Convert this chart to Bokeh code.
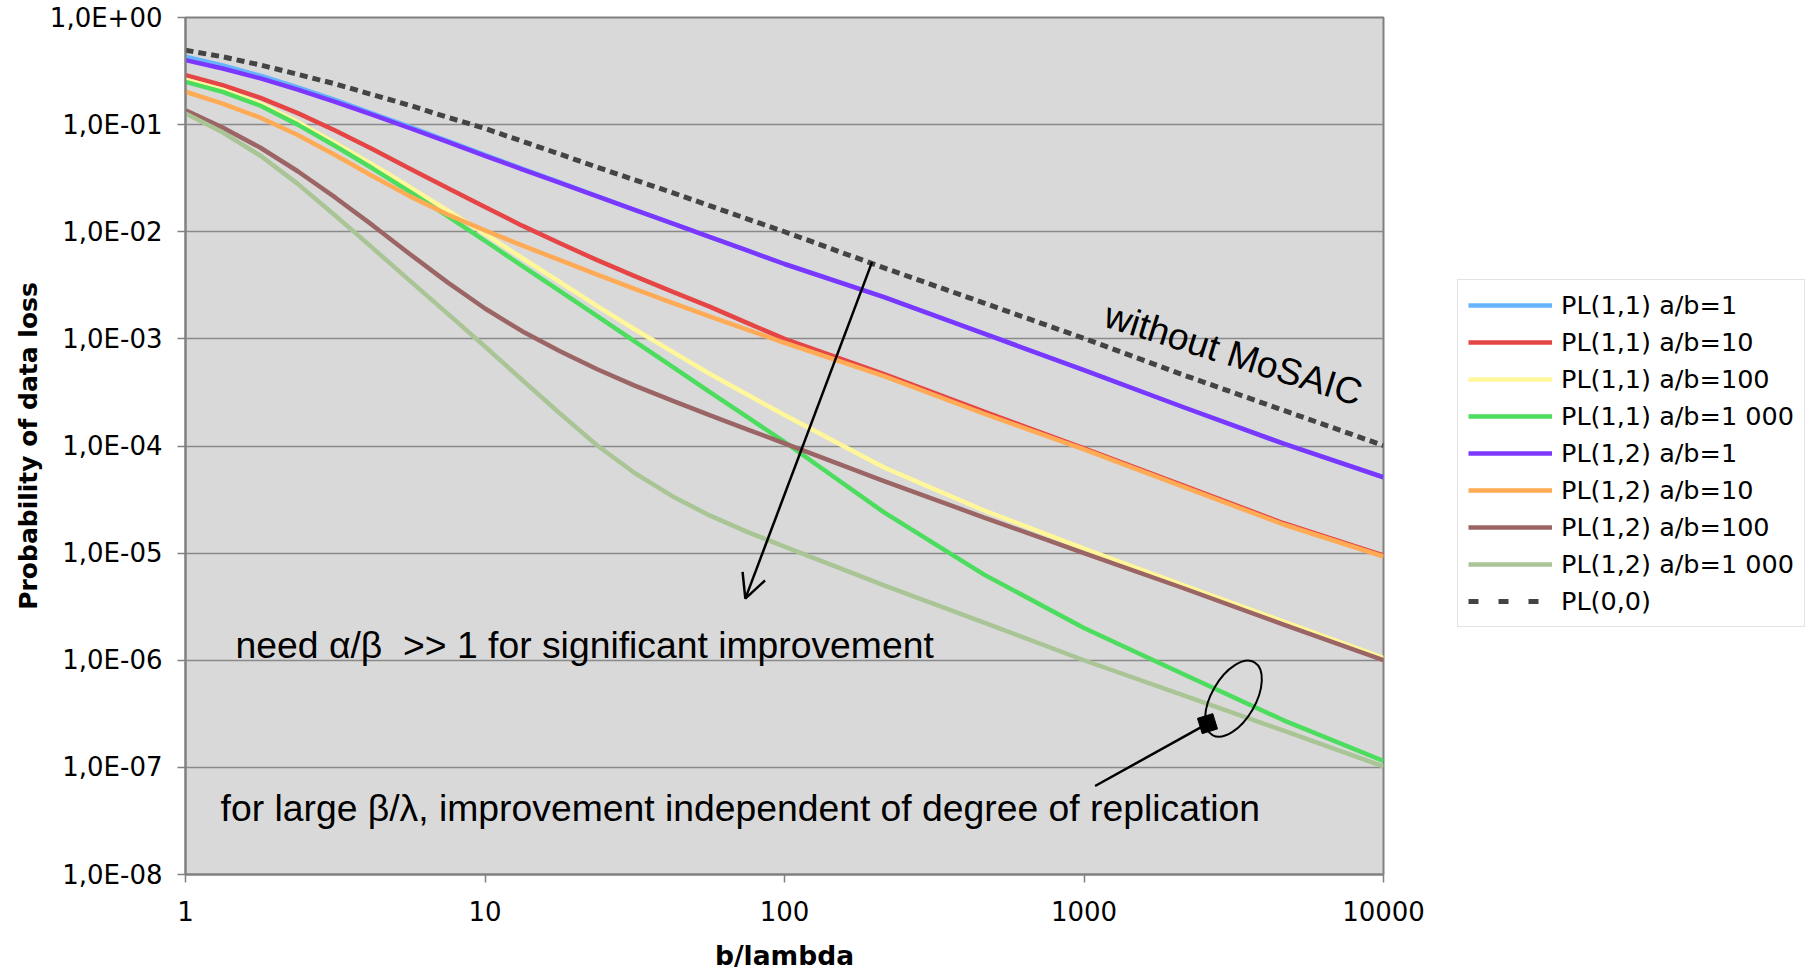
from bokeh.plotting import figure
from bokeh.models import (FixedTicker, Legend, LegendItem, Arrow, OpenHead, Label,
                          ColumnDataSource)
from bokeh.embed import file_html
from bokeh.resources import INLINE

# ---------------- data ----------------
x_vals = [1, 1.33, 1.78, 2.37, 3.16, 4.22, 5.62, 7.5, 10, 13.3, 17.8, 23.7, 31.6,
          42.2, 56.2, 75, 100, 215, 464, 1000, 2150, 4640, 10000]

pl11_1 = [0.43, 0.357, 0.286, 0.223, 0.170, 0.127, 0.0953, 0.0706, 0.0522, 0.0389,
          0.0289, 0.0215, 0.0160, 0.0120, 0.00897, 0.0067, 0.0050, 0.00245,
          0.00112, 5.1e-4, 2.3e-4, 1.05e-4, 5.1e-5]
pl11_10 = [0.290, 0.234, 0.178, 0.128, 0.0881, 0.0589, 0.0388, 0.0256, 0.0170,
           0.0114, 0.0078, 0.00543, 0.00385, 0.00276, 0.0020, 0.00141, 0.00100,
           4.7e-4, 2.09e-4, 9.5e-5, 4.27e-5, 1.9e-5, 9.5e-6]
pl11_100 = [0.263, 0.211, 0.157, 0.106, 0.0676, 0.0422, 0.026, 0.0158, 0.00955,
            0.00569, 0.00339, 0.00202, 0.00123, 7.6e-4, 4.73e-4, 3.02e-4, 1.95e-4,
            6.3e-5, 2.5e-5, 1.1e-5, 5.0e-6, 2.3e-6, 1.05e-6]
pl11_1000 = [0.251, 0.202, 0.150, 0.100, 0.0631, 0.0389, 0.0236, 0.0140, 0.00824,
             0.0048, 0.00279, 0.00163, 9.46e-4, 5.5e-4, 3.2e-4, 1.87e-4, 1.09e-4,
             2.4e-5, 6.3e-6, 2.0e-6, 7.4e-7, 2.75e-7, 1.15e-7]
pl12_1 = [0.40, 0.334, 0.270, 0.212, 0.163, 0.123, 0.0925, 0.0689, 0.0512, 0.0383,
          0.0286, 0.0214, 0.0160, 0.0120, 0.00897, 0.0067, 0.0050, 0.00245,
          0.00112, 5.1e-4, 2.3e-4, 1.05e-4, 5.1e-5]
pl12_10 = [0.203, 0.157, 0.116, 0.080, 0.052, 0.033, 0.0214, 0.0145, 0.0103,
           0.00745, 0.00543, 0.00398, 0.00293, 0.00217, 0.00162, 0.00122, 9.2e-4,
           4.5e-4, 2.0e-4, 9.3e-5, 4.15e-5, 1.85e-5, 9.3e-6]
pl12_100 = [0.136, 0.0938, 0.0608, 0.0367, 0.0209, 0.01146, 0.00617, 0.00337,
            0.00192, 0.00118, 7.67e-4, 5.2e-4, 3.66e-4, 2.65e-4, 1.94e-4, 1.43e-4,
            1.06e-4, 4.7e-5, 2.15e-5, 1.0e-5, 4.7e-6, 2.15e-6, 1.0e-6]
pl12_1000 = [0.127, 0.0847, 0.0512, 0.028, 0.0142, 0.00703, 0.00348, 0.00172,
             8.49e-4, 4.14e-4, 2.01e-4, 1.01e-4, 5.6e-5, 3.4e-5, 2.25e-5, 1.58e-5,
             1.15e-5, 5.0e-6, 2.24e-6, 1.0e-6, 4.7e-7, 2.2e-7, 1.02e-7]
pl00 = [0.495, 0.43, 0.36, 0.295, 0.24, 0.19, 0.151, 0.117, 0.092, 0.07, 0.053,
        0.040, 0.0305, 0.0232, 0.0175, 0.0132, 0.0100, 0.0046, 0.00216, 0.00101,
        4.6e-4, 2.15e-4, 1.01e-4]

series_names = ["PL(1,1) a/b=1", "PL(1,1) a/b=10", "PL(1,1) a/b=100", "PL(1,1) a/b=1 000",
                "PL(1,2) a/b=1", "PL(1,2) a/b=10", "PL(1,2) a/b=100", "PL(1,2) a/b=1 000",
                "PL(0,0)"]
series_values = [pl11_1, pl11_10, pl11_100, pl11_1000,
                 pl12_1, pl12_10, pl12_100, pl12_1000, pl00]
series_colors = ["#66b4ff", "#e54545", "#fff799", "#4cdd5e",
                 "#7c37ff", "#ffaa55", "#9c6565", "#a9c596", "#444444"]

x_ticks = [1, 10, 100, 1000, 10000]
x_tick_labels = ["1", "10", "100", "1000", "10000"]
y_ticks = [1e-8, 1e-7, 1e-6, 1e-5, 1e-4, 1e-3, 1e-2, 1e-1, 1.0]
y_tick_labels = ["1,0E-08", "1,0E-07", "1,0E-06", "1,0E-05", "1,0E-04",
                 "1,0E-03", "1,0E-02", "1,0E-01", "1,0E+00"]

x_title = "b/lambda"
y_title = "Probability of data loss"

# annotations (data coordinates)
note1 = "need \u03b1/\u03b2\u00a0 >> 1 for significant improvement"
note1_xy = (1.47, 1.4e-6)
note2 = "for large \u03b2/\u03bb, improvement independent of degree of replication"
note2_xy = (1.31, 4.2e-8)
note3 = "without MoSAIC"
note3_xy = (3156, 7.3e-4)
arrow_start = (196, 5.2e-3)
arrow_end = (74, 3.76e-6)
ellipse_xy = (3156, 4.38e-7)
square_xy = (2584, 2.56e-7)
pointer_end = (1089, 6.7e-8)

# ---------------- figure ----------------
p = figure(frame_width=1198, frame_height=857,
           x_axis_type="log", y_axis_type="log",
           x_range=(1, 10000), y_range=(1e-8, 1),
           output_backend="svg", toolbar_location=None,
           min_border_left=185, min_border_top=17, min_border_bottom=40,
           min_border_right=425)

p.background_fill_color = "#d9d9d9"
p.border_fill_color = "white"
p.outline_line_color = "#808080"
p.outline_line_width = 2

p.xgrid.visible = False
p.ygrid.grid_line_color = "#8a8a8a"
p.ygrid.grid_line_width = 1.5

p.xaxis.ticker = FixedTicker(ticks=x_ticks)
p.yaxis.ticker = FixedTicker(ticks=y_ticks)
p.xaxis.major_label_overrides = {t: l for t, l in zip(x_ticks, x_tick_labels)}
p.yaxis.major_label_overrides = {t: l for t, l in zip(y_ticks, y_tick_labels)}

for ax in (p.xaxis[0], p.yaxis[0]):
    ax.axis_line_color = "#808080"
    ax.axis_line_width = 2
    ax.major_tick_line_color = "#808080"
    ax.major_tick_line_width = 1.5
    ax.major_tick_out = 8
    ax.major_tick_in = 0
    ax.minor_tick_line_color = None
    ax.major_label_text_font = "DejaVu Sans"
    ax.major_label_text_font_size = "26px"
    ax.major_label_text_color = "black"
    ax.axis_label_text_font = "DejaVu Sans"
    ax.axis_label_text_font_style = "bold"
    ax.axis_label_text_color = "black"

p.xaxis.axis_label = x_title
p.yaxis.axis_label = y_title
p.xaxis.axis_label_text_font_size = "26.5px"
p.yaxis.axis_label_text_font_size = "25px"
p.xaxis.major_label_standoff = 18
p.xaxis.axis_label_standoff = 16
p.yaxis.major_label_standoff = 15
p.yaxis.axis_label_standoff = 4

items = []
for name, vals, col in zip(series_names, series_values, series_colors):
    src = ColumnDataSource(data=dict(x=x_vals, y=vals))
    if name == "PL(0,0)":
        p.line("x", "y", source=src, line_color=col, line_width=5, line_dash="8 5")
        # legend glyph with the coarser dash pattern of the reference legend
        # (its two points lie outside the visible ranges)
        rl = p.line(x=[1e-3, 2e-3], y=[1e-12, 1e-12], line_color=col,
                    line_width=5, line_dash="10 20")
        items.append(LegendItem(label=name, renderers=[rl]))
    else:
        r = p.line("x", "y", source=src, line_color=col, line_width=4.5)
        items.append(LegendItem(label=name, renderers=[r]))

legend = Legend(items=items, location=(74, 247), orientation="vertical")
legend.label_text_font = "DejaVu Sans"
legend.label_text_font_size = "25.5px"
legend.label_text_color = "black"
legend.glyph_width = 84
legend.glyph_height = 28
legend.label_height = 28
legend.spacing = 7
legend.padding = 10
legend.margin = 0
legend.label_standoff = 9
legend.border_line_color = "#c8c8c8"
legend.border_line_width = 1.5
legend.background_fill_color = "white"
legend.background_fill_alpha = 1.0
p.add_layout(legend, "right")

# annotations
p.add_layout(Arrow(end=OpenHead(size=24, line_width=2.5, line_color="black"),
                   x_start=arrow_start[0], y_start=arrow_start[1],
                   x_end=arrow_end[0], y_end=arrow_end[1],
                   line_width=2.5, line_color="black"))

p.ellipse(x=[ellipse_xy[0]], y=[ellipse_xy[1]], width=84, height=44,
          width_units="screen", height_units="screen",
          angle=60, angle_units="deg", fill_color=None,
          line_color="black", line_width=2)
p.segment(x0=[square_xy[0]], y0=[square_xy[1]], x1=[pointer_end[0]], y1=[pointer_end[1]],
          line_color="black", line_width=2.5)
p.scatter(x=[square_xy[0]], y=[square_xy[1]], marker="square", size=16,
          angle=0.3, fill_color="black", line_color="black")

for txt, (tx, ty), ang in ((note1, note1_xy, 0.0), (note2, note2_xy, 0.0),
                           (note3, note3_xy, -0.304)):
    p.add_layout(Label(x=tx, y=ty, text=txt, text_font="Liberation Sans",
                       text_font_size="37.3px", text_color="black",
                       text_align="center" if ang else "left",
                       text_baseline="middle", angle=ang))

open("out.html", "w").write(file_html(p, INLINE))
